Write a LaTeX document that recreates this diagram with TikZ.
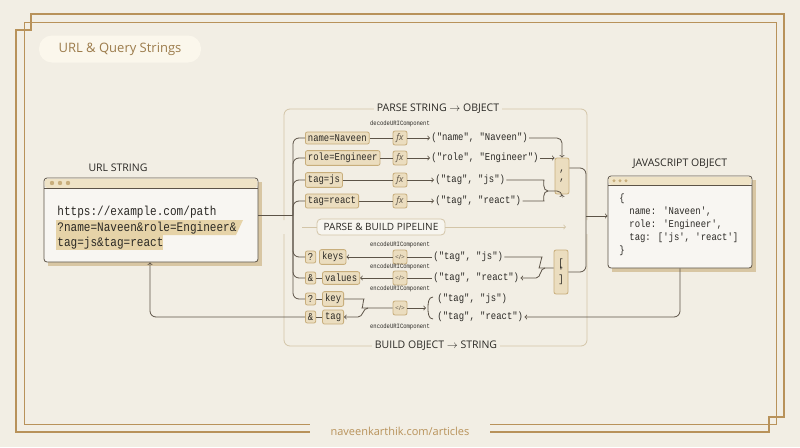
\documentclass[tikz,border=0pt]{standalone}
\usepackage{fontspec}
\setmainfont{Open Sans}
\newfontfamily\mono[FakeStretch=0.85]{Liberation Mono}
\usetikzlibrary{positioning,shapes,arrows}
\definecolor{bgc}{HTML}{F2EEE4}
\definecolor{gold}{HTML}{B8925A}
\definecolor{ink}{HTML}{2B2925}
\definecolor{wire}{HTML}{5C5347}
\definecolor{chipfill}{HTML}{EBDDBF}
\definecolor{chipline}{HTML}{C8AE7C}
\definecolor{pale}{HTML}{D3C5A8}
\definecolor{hl}{HTML}{E6D3A8}
\definecolor{winhead}{HTML}{EFE3C6}
\tikzstyle{chip} = [rectangle, draw=chipline, fill=chipfill, rounded corners=2pt, inner sep=2.5pt, font=\mono\fontsize{10.5}{11}\selectfont, text=ink, anchor=west]
\tikzstyle{fn} = [rectangle, draw=chipline, fill=chipfill, rounded corners=2pt, minimum size=14pt, inner sep=0pt, font=\fontsize{9}{10}\selectfont\itshape, text=wire]
\tikzstyle{tup} = [font=\mono\fontsize{10.5}{12}\selectfont, text=ink, anchor=west, inner sep=1pt]
\tikzstyle{tiny} = [font=\mono\fontsize{6.5}{7}\selectfont, text=ink]
\tikzstyle{head} = [font=\fontsize{10.5}{12}\selectfont, text=ink, fill=bgc, inner sep=3pt]
\tikzstyle{code} = [font=\mono\fontsize{13}{15}\selectfont, text=ink, anchor=west, inner sep=1pt]
\tikzstyle{line} = [draw=wire, thick, -to]
\tikzstyle{wire} = [draw=wire, thick, rounded corners=6pt]

\begin{document}
\begin{tikzpicture}[x=1pt, y=-1pt, line width=0.8pt]
        \useasboundingbox[fill=bgc] (0,0) rectangle (800,447);
        % Frame
        \draw[gold, line width=1.2pt] (31,14) -- (784,14) -- (784,417) -- (769,417) -- (769,432)
            -- (16,432) -- (16,30) -- (31,30) -- cycle;
        \draw[gold, line width=0.8pt] (24,22) -- (776,22) -- (776,424) -- (24,424) -- cycle;
        \node[fill=bgc, text=gold, font=\fontsize{11}{13}\selectfont, minimum width=180pt, minimum height=14pt] (footer) at (400,431) {naveenkarthik.com/articles};
        \node[fill={rgb,255:red,251;green,247;blue,236}, rounded corners=13pt, minimum width=162pt, minimum height=27pt, text=gold!85!black, font=\fontsize{13}{15}\selectfont] (title) at (120,49) {URL \& Query Strings};

        % Regions
        \draw[pale, rounded corners=6pt] (284,220) |- (587,109) -- (587,220);
        \draw[pale, rounded corners=6pt] (284,234) |- (587,346) -- (587,234);
        \node[head] (parsehd) at (438,109) {PARSE STRING $\rightarrow$ OBJECT};
        \node[head] (buildhd) at (436,346) {BUILD OBJECT $\rightarrow$ STRING};
        \node[draw=pale, fill=bgc!60!white, rounded corners=4pt, font=\fontsize{10}{11}\selectfont, text=ink, minimum width=128pt, minimum height=16pt] (pipe) at (381,227) {PARSE \& BUILD PIPELINE};
        \coordinate (pipeL) at (302,227);
        \coordinate (pipeR) at (566,227);
        \draw[pale] (pipeL) -- (pipe.west);
        \draw[pale, -to] (pipe.east) -- (pipeR);

        % URL window
        \fill[chipline!70] (48,182) rectangle (262,266);
        \draw[wire, fill=bgc!50!white, rounded corners=3pt] (44,178) rectangle (258,262);
        \fill[winhead, rounded corners=3pt] (44.6,178.6) rectangle (257.4,188);
        \draw[wire, thin] (44,188) -- (258,188);
        \foreach \i in {0,1,2} \fill[chipline] (52+\i*8,183) circle (2.2);
        \node (urlbox) at (151,220) [minimum width=214pt, minimum height=84pt] {};
        \node[font=\fontsize{10.5}{12}\selectfont, text=ink] (urlhd) at (118,168) {URL STRING};
        \node[code] (u1) at (56,212) {https://example.com/path};
        \fill[hl] (56,220) -- (243,220) -- (236,235) -- (56,235) -- cycle;
        \fill[hl] (56,235) rectangle (163,250);
        \node[code] (u2) at (56,228) {?name=Naveen\&role=Engineer\&};
        \node[code] (u3) at (56,243) {tag=js\&tag=react};

        % JS window
        \fill[chipline!70] (612,180) rectangle (756,272);
        \draw[wire, fill=bgc!50!white, rounded corners=3pt] (608,176) rectangle (752,268);
        \fill[winhead, rounded corners=3pt] (608.6,176.6) rectangle (751.4,185);
        \draw[wire, thin] (608,185) -- (752,185);
        \foreach \i in {0,1,2} \fill[chipline] (614+\i*6,180.8) circle (1.6);
        \node (jsbox) at (680,222) [minimum width=144pt, minimum height=92pt] {};
        \node[font=\fontsize{10.5}{12}\selectfont, text=ink] (jshd) at (680,164) {JAVASCRIPT OBJECT};
        \node[tup] (j1) at (618,199) {\{};
        \node[tup] (j2) at (628,212) {name: 'Naveen',};
        \node[tup] (j3) at (628,225) {role: 'Engineer',};
        \node[tup] (j4) at (628,238) {tag: ['js', 'react']};
        \node[tup] (j5) at (618,251) {\}};

        % Parse rows
        \node[tiny] (dec) at (400,124) {decodeURIComponent};
        \node[chip] (p1) at (305,138) {name=Naveen};
        \node[chip] (p2) at (305,158) {role=Engineer};
        \node[chip] (p3) at (305,180) {tag=js};
        \node[chip] (p4) at (305,201) {tag=react};
        \foreach \r/\y in {1/138,2/158,3/180,4/201} {
            \node[fn] (f\r) at (400,\y) {fx};
            \path[wire] (p\r.east) -- (f\r.west);
        }
        \node[tup] (t1) at (430,138) {("name", "Naveen")};
        \node[tup] (t2) at (430,158) {("role", "Engineer")};
        \node[tup] (t3) at (434,180) {("tag", "js")};
        \node[tup] (t4) at (434,201) {("tag", "react")};
        \foreach \r in {1,2,3,4} \path[line] (f\r.east) -- (t\r.west);
        \node[chip, anchor=center, align=center, minimum width=14pt, minimum height=36pt, inner sep=1pt] (comma) at (562,176) {,\\[-2pt],};
        \path[line, rounded corners=5pt] (t1.east) -| (comma.north);
        \path[line] (t2.east) -- (t2.east -| comma.west);
        \coordinate (m1) at (548,191);
        \path[wire] (t3.east) -- (538,180) to[out=0,in=180] (m1);
        \path[wire] (t4.east) -- (538,201) to[out=0,in=180] (m1);
        \path[line, rounded corners=5pt] (m1) -| (comma.south);

        % Build rows
        \node[chip] (q1) at (305,257) {?};
        \node[chip, right=3pt of q1] (k1) {keys};
        \node[chip] (q2) at (305,278) {\&};
        \node[chip, right=6pt of q2] (k2) {values};
        \node[chip] (q3) at (305,299) {?};
        \node[chip, right=6pt of q3] (k3) {key};
        \node[chip] (q4) at (305,317) {\&};
        \node[chip, right=6pt of q4] (k4) {tag};
        \foreach \r in {2,3,4} \path[wire] (q\r.east) -- (k\r.west);
        \node[fn, font=\fontsize{6.5}{7}\selectfont] (e1) at (400,257) {</>};
        \node[fn, font=\fontsize{6.5}{7}\selectfont] (e2) at (400,278) {</>};
        \node[fn, font=\fontsize{6.5}{7}\selectfont] (e3) at (400,308) {</>};
        \node[tiny] (enc1) at (400,245) {encodeURIComponent};
        \node[tiny] (enc2) at (400,267) {encodeURIComponent};
        \node[tiny] (enc3) at (400,289) {encodeURIComponent};
        \node[tiny] (enc4) at (400,327) {encodeURIComponent};
        \node[tup] (b1) at (432,257) {("tag", "js")};
        \node[tup] (b2) at (432,278) {("tag", "react")};
        \node[tup] (b3) at (436,299) {("tag", "js")};
        \node[tup] (b4) at (436,317) {("tag", "react")};
        \path[line] (e1.west) -- (k1.east);
        \path[line] (e2.west) -- (k2.east);
        \path[wire] (b1.west) -- (e1.east);
        \path[wire] (b2.west) -- (e2.east);
        \node[chip, anchor=center, align=center, minimum width=14pt, minimum height=44pt, inner sep=1pt] (brk) at (561,272) {[\\[-3pt]'\\[-3pt]]};
        \coordinate (m2) at (545,268);
        \path[wire] (b1.east) -- (536,257) to[out=0,in=180] (m2) -- (brk.west |- m2);
        \path[line] (m2) to[out=180,in=0] (536,278) -- (b2.east);
        \coordinate (m3) at (368,308);
        \path[wire] (k3.east) -- (358,299) to[out=0,in=180] (m3) -- (e3.west);
        \path[line] (m3) to[out=180,in=0] (358,317) -- (k4.east);
        \draw[wire, rounded corners=0pt] (433,297) to[out=180,in=90] (428,308) to[out=-90,in=180] (433,319);
        \path[line] (e3.east) -- (426,308);

        % Main flow
        \coordinate (spine) at (293,215);
        \path[wire] (urlbox.east |- spine) -- (spine);
        \foreach \c in {p1,p2,p3,p4,q1,q2,q3} \path[wire] (spine) |- (\c.west);
        \coordinate (merge) at (586,216);
        \path[wire] (comma.east |- 0,168) -| (merge);
        \path[wire] (brk.east) -| (merge);
        \path[line] (merge) -- (jsbox.west |- merge);
        \path[line, rounded corners=6pt] (jsbox.south) |- (b4.east);
        \path[line, rounded corners=6pt] (q4.west) -| (urlbox.south -| 150,0);
\end{tikzpicture}
\end{document}
